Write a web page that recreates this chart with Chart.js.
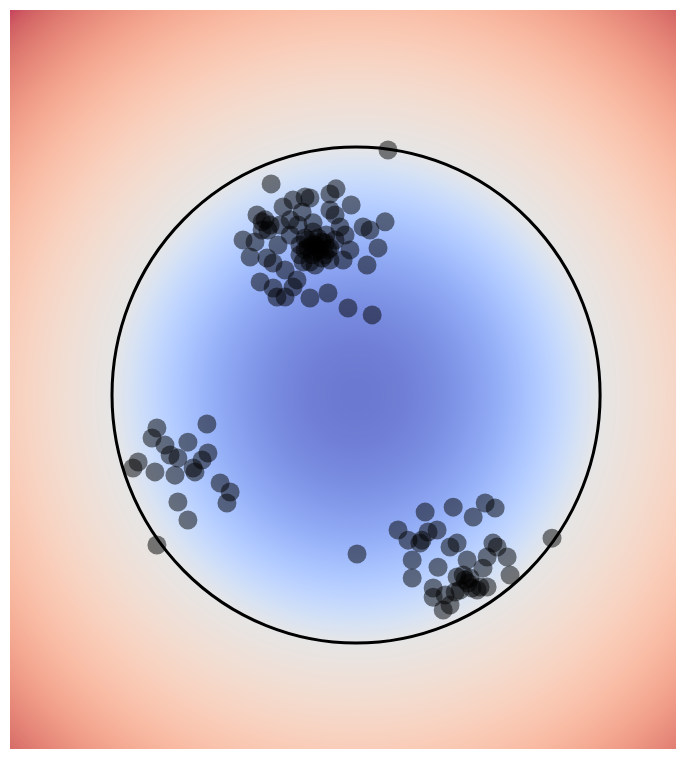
<!DOCTYPE html>
<html>
<head>
<meta charset="utf-8">
<script src="https://cdn.jsdelivr.net/npm/chart.js@4.4.1/dist/chart.umd.min.js"></script>
<style>
    html, body { margin: 0; padding: 0; background: #ffffff; }
    canvas { display: block; }
</style>
</head>
<body>
<canvas id="myChart" width="688" height="768"></canvas>
<script>
// scatter values (x, y), three clusters plus a few strays
const clusterTopX = [-0.348, -0.082, -0.107, -0.209, -0.189, -0.258, -0.299, -0.020, -0.107, -0.221,
    -0.406, -0.373, -0.352, -0.270, 0.119, 0.029, 0.057, -0.066, -0.176, -0.463,
    -0.414, -0.320, 0.090, -0.025, -0.434, -0.365, -0.340, -0.053, 0.045, -0.291,
    -0.393, -0.340, -0.242, -0.258, -0.291, -0.189, -0.115, -0.033, 0.066, -0.324,
    -0.197, -0.168, -0.148, -0.180, -0.156, -0.127, -0.209, -0.139, -0.189, -0.230,
    -0.107, -0.164, -0.176, -0.123, -0.086, -0.045, -0.270, -0.311, -0.385, -0.238,
    -0.209, -0.156, -0.127, -0.230, -0.168, -0.107, -0.197, -0.139, -0.180, -0.115,
    -0.217, -0.086, -0.385, -0.361, 0.131];
const clusterTopY = [0.851, 0.831, 0.810, 0.798, 0.794, 0.786, 0.758, 0.766, 0.746, 0.738,
    0.726, 0.706, 0.685, 0.706, 0.698, 0.677, 0.665, 0.677, 0.694, 0.625,
    0.617, 0.605, 0.593, 0.585, 0.556, 0.552, 0.532, 0.544, 0.524, 0.504,
    0.456, 0.431, 0.464, 0.435, 0.395, 0.391, 0.411, 0.351, 0.323, 0.395,
    0.625, 0.605, 0.585, 0.565, 0.633, 0.613, 0.585, 0.552, 0.536, 0.605,
    0.593, 0.577, 0.657, 0.645, 0.726, 0.645, 0.645, 0.685, 0.665, 0.685,
    0.633, 0.593, 0.565, 0.565, 0.524, 0.544, 0.593, 0.617, 0.605, 0.585,
    0.536, 0.625, 0.698, 0.665, 0.988];

const clusterLeftX = [-0.611, -0.816, -0.836, -0.783, -0.689, -0.762, -0.730, -0.607, -0.631, -0.893,
    -0.914, -0.824, -0.742, -0.668, -0.660, -0.557, -0.516, -0.529, -0.730, -0.689, -0.816];
const clusterLeftY = [-0.117, -0.133, -0.173, -0.202, -0.190, -0.242, -0.254, -0.234, -0.262, -0.270,
    -0.294, -0.310, -0.323, -0.294, -0.310, -0.355, -0.391, -0.435, -0.431, -0.504, -0.605];

const clusterRightX = [0.004, 0.283, 0.398, 0.480, 0.529, 0.570, 0.172, 0.213, 0.270, 0.262,
    0.332, 0.295, 0.230, 0.230, 0.316, 0.316, 0.357, 0.385, 0.336, 0.385,
    0.414, 0.414, 0.455, 0.459, 0.447, 0.475, 0.496, 0.426, 0.520, 0.561,
    0.578, 0.619, 0.537, 0.631, 0.406, 0.508, 0.803, 0.537, 0.439, 0.467, 0.365];
const clusterRightY = [-0.641, -0.472, -0.452, -0.492, -0.435, -0.456, -0.544, -0.585, -0.585, -0.597,
    -0.544, -0.552, -0.665, -0.738, -0.778, -0.815, -0.867, -0.847, -0.694, -0.613,
    -0.597, -0.734, -0.665, -0.758, -0.746, -0.778, -0.786, -0.786, -0.698, -0.597,
    -0.613, -0.653, -0.653, -0.726, -0.794, -0.774, -0.577, -0.774, -0.726, -0.738, -0.806];

// axis limits
const xLimits = [-1.418, 1.311];
const yLimits = [-1.427, 1.552];
const circleRadius = 1;

// matplotlib coolwarm stops
const coolwarm = [
    [59, 76, 192], [68, 90, 204], [77, 104, 215], [87, 117, 225], [98, 130, 234],
    [108, 142, 241], [119, 154, 247], [130, 165, 251], [141, 176, 254], [152, 185, 255],
    [163, 194, 255], [174, 201, 253], [184, 208, 249], [194, 213, 244], [204, 217, 238],
    [213, 219, 230], [221, 221, 221], [229, 216, 209], [236, 211, 197], [241, 204, 185],
    [245, 196, 173], [247, 187, 160], [247, 177, 148], [247, 166, 135], [244, 154, 123],
    [241, 141, 111], [236, 127, 99], [229, 112, 88], [222, 96, 77], [213, 80, 66],
    [203, 62, 56], [192, 40, 47], [180, 4, 38]
];

function zip(xs, ys) {
    return xs.map(function (x, i) { return { x: x, y: ys[i] }; });
}

function colorAt(t) {
    t = Math.max(0, Math.min(1, t));
    const p = t * (coolwarm.length - 1);
    const i = Math.min(Math.floor(p), coolwarm.length - 2);
    const f = p - i;
    const a = coolwarm[i], b = coolwarm[i + 1];
    return [a[0] + (b[0] - a[0]) * f, a[1] + (b[1] - a[1]) * f, a[2] + (b[2] - a[2]) * f];
}

// field r^2 - R^2 under a two-slope norm centred on the circle
const fieldBackground = {
    id: 'fieldBackground',
    beforeDatasetsDraw(chart) {
        const { ctx, chartArea, scales } = chart;
        const w = Math.round(chartArea.right - chartArea.left);
        const h = Math.round(chartArea.bottom - chartArea.top);
        const off = document.createElement('canvas');
        off.width = w;
        off.height = h;
        const octx = off.getContext('2d');
        const img = octx.createImageData(w, h);
        const r2 = circleRadius * circleRadius;
        let fmax = 0;
        [xLimits[0], xLimits[1]].forEach(function (cx) {
            [yLimits[0], yLimits[1]].forEach(function (cy) {
                fmax = Math.max(fmax, cx * cx + cy * cy - r2);
            });
        });
        const alpha = 0.75;
        for (let j = 0; j < h; j++) {
            const y = scales.y.getValueForPixel(chartArea.top + j + 0.5);
            for (let i = 0; i < w; i++) {
                const x = scales.x.getValueForPixel(chartArea.left + i + 0.5);
                const f = x * x + y * y - r2;
                const t = f < 0 ? 0.5 * (1 + f / r2) : 0.5 + 0.5 * f / fmax;
                const c = colorAt(t);
                const k = (j * w + i) * 4;
                img.data[k] = c[0] * alpha + 255 * (1 - alpha);
                img.data[k + 1] = c[1] * alpha + 255 * (1 - alpha);
                img.data[k + 2] = c[2] * alpha + 255 * (1 - alpha);
                img.data[k + 3] = 255;
            }
        }
        octx.putImageData(img, 0, 0);
        ctx.drawImage(off, chartArea.left, chartArea.top, w, h);

        // boundary circle
        const cx = scales.x.getPixelForValue(0);
        const cy = scales.y.getPixelForValue(0);
        const rx = Math.abs(scales.x.getPixelForValue(circleRadius) - cx);
        const ry = Math.abs(scales.y.getPixelForValue(circleRadius) - cy);
        ctx.save();
        ctx.beginPath();
        ctx.ellipse(cx, cy, rx, ry, 0, 0, Math.PI * 2);
        ctx.lineWidth = 3;
        ctx.strokeStyle = '#000000';
        ctx.stroke();
        ctx.restore();
    }
};

const ctx = document.getElementById('myChart');
new Chart(ctx, {
    type: 'scatter',
    data: {
        datasets: [{
            label: 'samples',
            data: zip(clusterTopX, clusterTopY)
                .concat(zip(clusterLeftX, clusterLeftY))
                .concat(zip(clusterRightX, clusterRightY)),
            pointRadius: 9.5,
            pointHoverRadius: 9.5,
            pointBorderWidth: 0,
            backgroundColor: 'rgba(0, 0, 0, 0.5)',
            borderColor: 'rgba(0, 0, 0, 0)',
        }]
    },
    plugins: [fieldBackground],
    options: {
        responsive: false,
        animation: false,
        devicePixelRatio: 1,
        layout: {
            padding: { left: 10, top: 10, right: 12, bottom: 19 }
        },
        plugins: {
            legend: { display: false },
            tooltip: { enabled: false }
        },
        scales: {
            x: {
                type: 'linear',
                display: false,
                min: xLimits[0],
                max: xLimits[1]
            },
            y: {
                type: 'linear',
                display: false,
                min: yLimits[0],
                max: yLimits[1]
            }
        }
    }
});
</script>
</body>
</html>
